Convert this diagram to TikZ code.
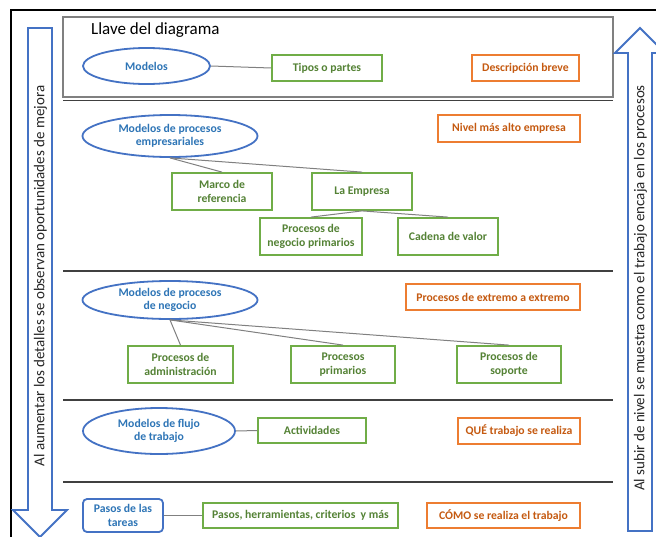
\documentclass[tikz,border=0pt]{standalone}
\usepackage{fontspec}
\setmainfont{Carlito}
\usetikzlibrary{shapes.geometric}

\definecolor{bluedraw}{HTML}{4472C4}
\definecolor{bluetext}{HTML}{2E75B6}
\definecolor{greendraw}{HTML}{70AD47}
\definecolor{greentext}{HTML}{548235}
\definecolor{orangedraw}{HTML}{ED7D31}
\definecolor{orangetext}{HTML}{C55A11}
\definecolor{linkgray}{HTML}{808080}
\definecolor{rulegray}{HTML}{404040}

\tikzset{
  lbl/.style={font=\bfseries\fontsize{11.7}{13.5}\selectfont, align=center, inner sep=0pt},
  modelell/.style={lbl, ellipse, draw=bluedraw, line width=1.8pt, text=bluetext, fill=white},
  greenbox/.style={lbl, rectangle, draw=greendraw, line width=1.8pt, text=greentext, fill=white},
  orangebox/.style={lbl, rectangle, draw=orangedraw, line width=1.8pt, text=orangetext, fill=white},
  bluebox/.style={lbl, rectangle, rounded corners=4pt, draw=bluedraw, line width=1.8pt, text=bluetext, fill=white},
  link/.style={draw=linkgray, line width=1pt},
  divider/.style={draw=rulegray, line width=1.3pt},
  bigarrow/.style={draw=bluedraw, line width=1.8pt, fill=white, line join=miter},
  arrowtext/.style={font=\fontsize{15}{17}\selectfont, text=black!85, inner sep=0pt, rotate=90}
}

\begin{document}
\begin{tikzpicture}[x=1pt, y=-1pt]
  \useasboundingbox (0,0) rectangle (656,536);
  \fill[white] (0,0) rectangle (656,536);

  % outer frame
  \draw[black, line width=2pt] (11,540) -- (11,10) -- (660,10);

  % key panel
  \draw[draw=linkgray, line width=1.2pt] (63,17) rectangle (613,97);
  \draw[divider, line width=1.6pt] (63,100.5) -- (613,100.5);
  \node[anchor=west, font=\fontsize{17}{19}\selectfont, inner sep=0pt] (keytitle) at (91,30) {Llave del diagrama};

  % level dividers
  \draw[divider] (63,271) -- (613,271);
  \draw[divider] (63,400) -- (613,400);
  \draw[divider] (63,482) -- (613,482);

  % side arrows
  \draw[bigarrow] (28,28) -- (52,28) -- (52,510) -- (67,510) -- (40,537) -- (13,510) -- (28,510) -- cycle;
  \node[arrowtext] (downtext) at (40.5,276) {Al aumentar los detalles se observan oportunidades de mejora};
  \draw[bigarrow] (628,531) -- (652,531) -- (652,53) -- (665,53) -- (640,28) -- (615,53) -- (628,53) -- cycle;
  \node[arrowtext] (uptext) at (640.5,288) {Al subir de nivel se muestra como el trabajo encaja en los procesos};

  % key row
  \node[modelell, minimum width=127pt, minimum height=36pt] (kmod) at (146.5,66) {Modelos};
  \node[greenbox, minimum width=110pt, minimum height=26pt] (ktipos) at (327,68) {Tipos o partes};
  \node[orangebox, minimum width=107pt, minimum height=26pt] (kdesc) at (525.5,68) {Descripción breve};
  \draw[link] (kmod.east) -- (ktipos.west);

  % enterprise process models
  \node[modelell, minimum width=175pt, minimum height=42pt] (emod) at (170,136) {Modelos de procesos\\empresariales};
  \node[orangebox, minimum width=142pt, minimum height=27pt] (edesc) at (509,128.5) {Nivel más alto empresa};
  \node[greenbox, minimum width=100pt, minimum height=37pt] (marco) at (222,191.5) {Marco de\\referencia};
  \node[greenbox, minimum width=100pt, minimum height=37pt] (empresa) at (362,191.5) {La Empresa};
  \node[greenbox, minimum width=102pt, minimum height=37pt] (negprim) at (311,236.5) {Procesos de\\negocio primarios};
  \node[greenbox, minimum width=100pt, minimum height=37pt] (cadena) at (448,236.5) {Cadena de valor};
  \draw[link] (emod.south) -- (marco.north);
  \draw[link] (emod.south) -- (empresa.north);
  \draw[link] (empresa.south) -- (negprim.north);
  \draw[link] (empresa.south) -- (cadena.north);

  % business process models
  \node[modelell, minimum width=175pt, minimum height=38pt] (bmod) at (170,300) {Modelos de procesos\\de negocio};
  \node[orangebox, minimum width=174pt, minimum height=26pt] (bdesc) at (493,297) {Procesos de extremo a extremo};
  \node[greenbox, minimum width=105pt, minimum height=37pt] (admin) at (180.5,364.5) {Procesos de\\administración};
  \node[greenbox, minimum width=104pt, minimum height=37pt] (prim) at (343,364.5) {Procesos\\primarios};
  \node[greenbox, minimum width=104pt, minimum height=37pt] (sop) at (509,364.5) {Procesos de\\soporte};
  \draw[link] (bmod.south) -- (admin.north);
  \draw[link] (bmod.south) -- (prim.north);
  \draw[link] (bmod.south) -- (sop.north);

  % workflow models
  \node[modelell, minimum width=152pt, minimum height=46pt] (wmod) at (159,431) {Modelos de flujo\\de trabajo};
  \node[greenbox, minimum width=108pt, minimum height=25pt] (activ) at (312,430.5) {Actividades};
  \node[orangebox, minimum width=122pt, minimum height=26pt] (wdesc) at (519,431) {QUÉ trabajo se realiza};
  \draw[link] (wmod.east) -- (activ.west);

  % task steps
  \node[bluebox, minimum width=80pt, minimum height=33pt] (tmod) at (123,515.5) {Pasos de las\\tareas};
  \node[greenbox, minimum width=195pt, minimum height=25pt] (herr) at (300.5,515.5) {Pasos, herramientas, criterios\ \ y más};
  \node[orangebox, minimum width=153pt, minimum height=25pt] (tdesc) at (503.5,515.5) {CÓMO se realiza el trabajo};
  \draw[link] (tmod.east) -- (herr.west);
\end{tikzpicture}
\end{document}
